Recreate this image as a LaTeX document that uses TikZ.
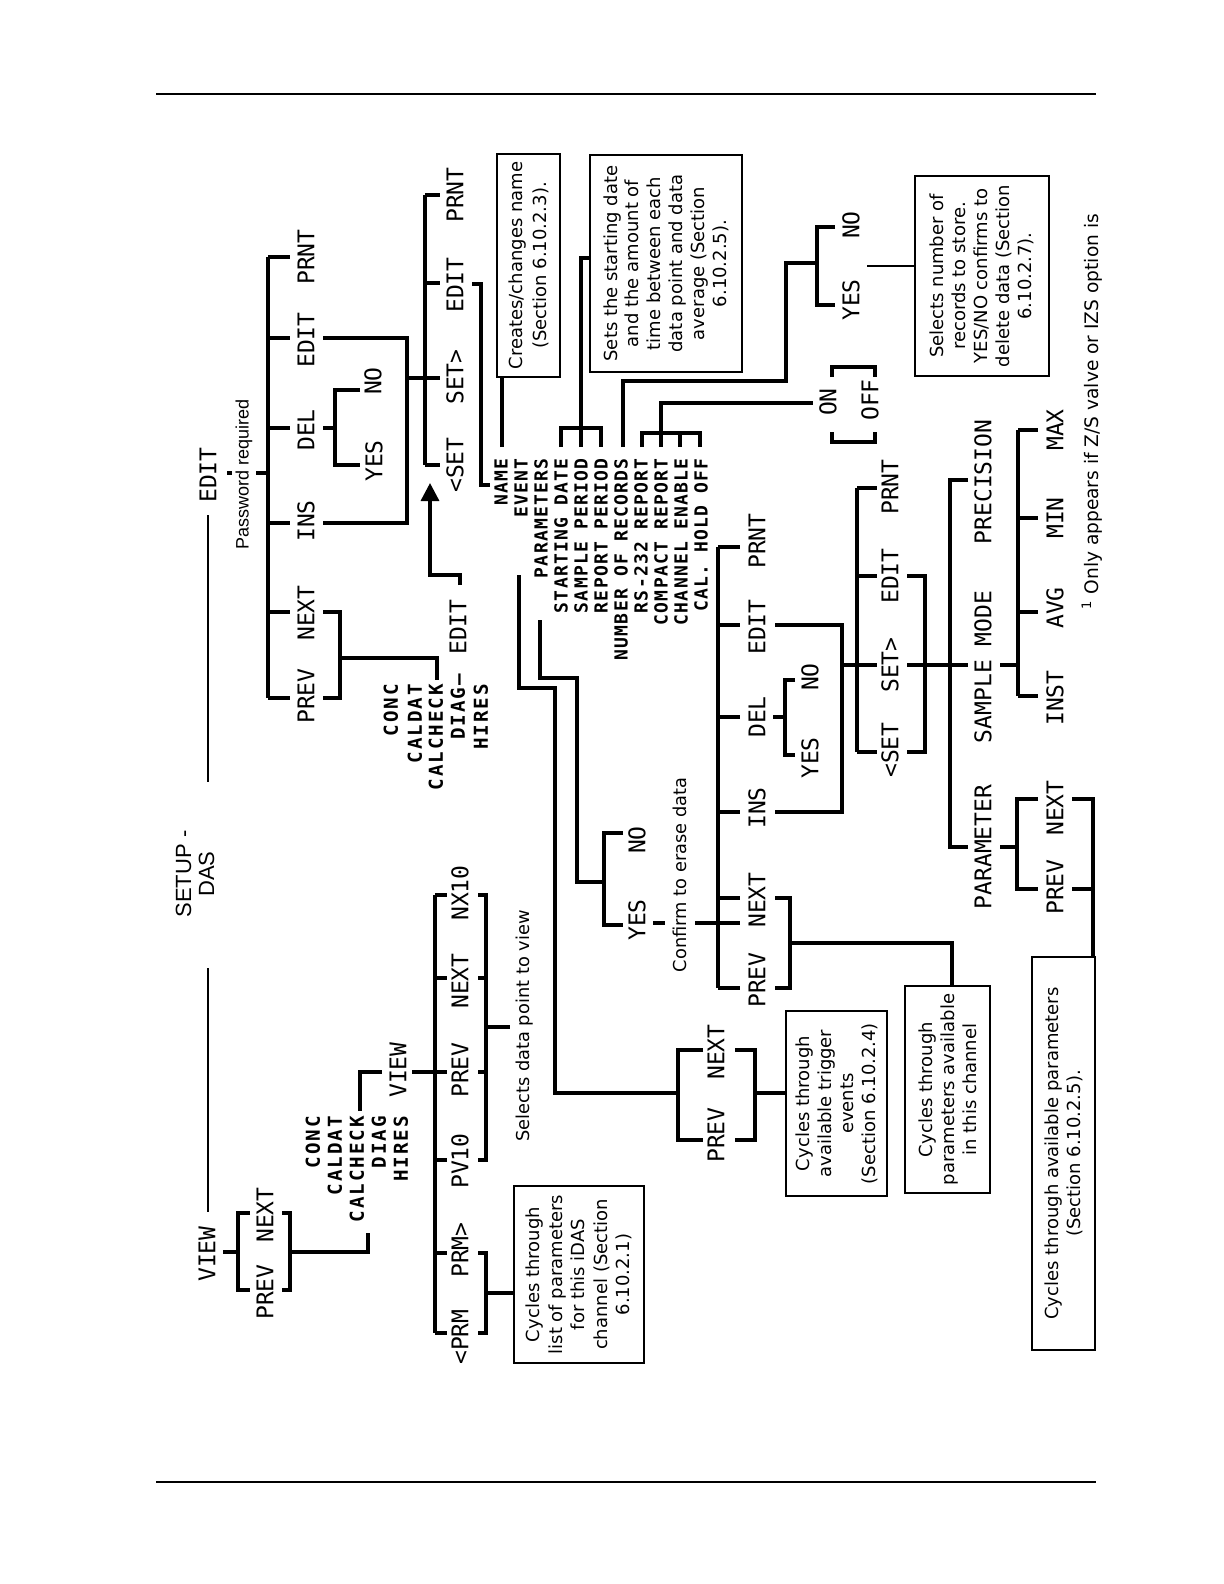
\documentclass[tikz,border=0pt]{standalone}
\usepackage{fontspec}
\setmainfont{DejaVu Sans}
\newfontfamily\menufont{DejaVu Sans Mono}
\newfontfamily\listfont[LetterSpace=7]{DejaVu Sans Mono}
\newfontfamily\listfontw[LetterSpace=10]{DejaVu Sans Mono}
\newfontfamily\arialfont{Liberation Sans}
\usetikzlibrary{arrows.meta}

\tikzset{
  menu/.style={rotate=90, inner sep=0pt, font=\menufont\fontsize{11.5}{13}\selectfont},
  lstitem/.style={rotate=90, inner sep=0pt, anchor=east, font=\listfont\bfseries\fontsize{9}{10}\selectfont},
  lstitemw/.style={rotate=90, inner sep=0pt, anchor=east, font=\listfontw\bfseries\fontsize{9.6}{10}\selectfont},
  hint/.style={rotate=90, inner sep=0pt, font=\fontsize{8.9}{11}\selectfont},
  note/.style={rotate=90, draw, line width=0.6pt, inner sep=0pt, align=center, font=\fontsize{9}{11}\selectfont},
  br/.style={line width=1.7pt},
  lvl/.style={line width=1.3pt},
  thinln/.style={line width=1pt},
  rule/.style={line width=0.6pt}
}

\begin{document}
\begin{tikzpicture}[x=0.5pt, y=-0.5pt]
  \useasboundingbox (0,0) rectangle (1224,1584);

  % ── page rules ────────────────────────────────────────────────
  \draw[rule] (156,94) -- (1096,94);
  \draw[rule] (156,1482) -- (1096,1482);

  % ── top level ─────────────────────────────────────────────────
  \node[menu] (edittop) at (208,475) {EDIT};
  \node[rotate=90, inner sep=0pt, font=\arialfont\fontsize{9}{10}\selectfont]
    (pwd) at (244,474) {Password required};
  \node[rotate=90, inner sep=0pt, align=center, font=\arialfont\fontsize{11}{11.5}\selectfont]
    (setup) at (195,874) {SETUP -\\DAS};
  \node[menu] (viewtop) at (207,1254) {VIEW};
  \draw[lvl] (208,515) -- (208,782);
  \draw[lvl] (208,968) -- (208,1212);

  % ── EDIT menu ─────────────────────────────────────────────────
  \draw[br] (227,473) -- (232,473);
  \draw[br] (256,473) -- (268,473);
  \draw[br] (268,257) -- (268,698);
  \foreach \y in {257,338,428,523,612,698}
    \draw[br] (268,\y) -- (290,\y);
  \node[menu] (eprnt) at (306,257) {PRNT};
  \node[menu] (eedit) at (306,340) {EDIT};
  \node[menu] (edel)  at (306,430) {DEL};
  \node[menu] (eins)  at (306,521) {INS};
  \node[menu] (enext) at (306,613) {NEXT};
  \node[menu] (eprev) at (306,696) {PREV};

  % DEL -> YES / NO
  \draw[br] (323,428) -- (335,428);
  \draw[br] (360,390) -- (335,390) -- (335,465) -- (360,465);
  \node[menu] (edno)  at (373,381) {NO};
  \node[menu] (edyes) at (374,461) {YES};

  % PREV / NEXT -> channel list
  \draw[br] (323,612) -- (340,612) -- (340,698) -- (323,698);
  \draw[br] (340,658) -- (437,658) -- (437,680);
  \foreach \x/\t in {391/CONC,415/CALDAT,436/CALCHECK,481/HIRES}
    \node[lstitemw] (ea\x) at (\x,684) {\t};
  \node[lstitemw] (ediag) at (458,674) {DIAG–};
  \node[menu] (ediagedit) at (458,627) {EDIT};
  \draw[br, -{Triangle[length=9pt,width=9pt]}]
    (460,585) -- (460,575) -- (430,575) -- (430,483);

  % INS / EDIT -> channel edit
  \draw[br] (323,338) -- (407,338) -- (407,523) -- (323,523);
  \draw[br] (407,378) -- (440,378);
  \draw[br] (425,195) -- (425,465);
  \foreach \y in {195,283,378,465}
    \draw[br] (425,\y) -- (440,\y);
  \node[menu] (cprnt) at (455,195) {PRNT};
  \node[menu] (cedit) at (455,285) {EDIT};
  \node[menu] (cset)  at (455,377) {SET>};
  \node[menu] (cbset) at (455,465) {<SET};
  \draw[br] (472,284) -- (481,284) -- (481,485) -- (490,485);

  % ── property list ─────────────────────────────────────────────
  \foreach \x/\t in {501/NAME,521/EVENT,541/PARAMETERS,561/STARTING DATE,
                     581/SAMPLE PERIOD,601/REPORT PERIOD,621/NUMBER OF RECORDS,
                     641/RS-232 REPORT,661/COMPACT REPORT,681/CHANNEL ENABLE,
                     701/CAL. HOLD OFF}
    \node[lstitem] (p\x) at (\x,458) {\t};

  % NAME
  \node[note, minimum width=111.5pt, minimum height=31.5pt, font=\fontsize{9}{12}\selectfont]
    (namebox) at (528.5,265.5) {Creates/changes name\\(Section 6.10.2.3).};
  \draw[br] (502,447) -- (502,377);

  % STARTING DATE / SAMPLE PERIOD / REPORT PERIOD
  \node[note, minimum width=108.5pt, minimum height=76pt, font=\fontsize{9}{10.9}\selectfont]
    (datebox) at (666,263.5)
    {Sets the starting date\\and the amount of\\time between each\\data point and data\\average (Section\\6.10.2.5).};
  \draw[br] (561,447) -- (561,428) -- (601,428) -- (601,447);
  \draw[br] (581,447) -- (581,258) -- (590,258);

  % NUMBER OF RECORDS
  \draw[br] (623,447) -- (623,381) -- (786,381) -- (786,263) -- (817,263);
  \draw[br] (835,227) -- (817,227) -- (817,305) -- (835,305);
  \node[menu] (rno)  at (851,225) {NO};
  \node[menu] (ryes) at (851,300) {YES};
  \node[note, minimum width=100pt, minimum height=67pt]
    (recbox) at (982,276)
    {Selects number of\\records to store.\\YES/NO confirms to\\delete data (Section\\6.10.2.7).};
  \draw[thinln] (867,266) -- (915,266);

  % RS-232 .. CAL. HOLD OFF -> ON / OFF
  \draw[br] (642,447) -- (642,433) -- (700,433) -- (700,447);
  \draw[br] (680,433) -- (680,447);
  \draw[br] (661,447) -- (661,403) -- (813,403);
  \node[menu] (on)  at (828,402) {ON};
  \node[menu] (off) at (870,400) {OFF};
  \draw[br] (832,377) -- (832,367) -- (875,367) -- (875,377);
  \draw[br] (832,432) -- (832,442) -- (875,442) -- (875,432);

  % ── EVENT ─────────────────────────────────────────────────────
  \draw[br] (519,575) -- (519,688) -- (555,688) -- (555,1093) -- (678,1093);
  \draw[br] (703,1050) -- (678,1050) -- (678,1140) -- (703,1140);
  \node[menu] (evnext) at (716,1052) {NEXT};
  \node[menu] (evprev) at (716,1135) {PREV};
  \draw[br] (735,1050) -- (755,1050) -- (755,1140) -- (735,1140);
  \node[note, minimum width=92.5pt, minimum height=50.5pt]
    (evbox) at (836.5,1103.5)
    {Cycles through\\available trigger\\events\\(Section 6.10.2.4)};
  \draw[br] (755,1093) -- (786,1093);

  % ── PARAMETERS ────────────────────────────────────────────────
  \draw[br] (540,620) -- (540,678) -- (577,678) -- (577,882) -- (604,882);
  \draw[br] (623,833) -- (604,833) -- (604,925) -- (623,925);
  \node[menu] (pno)  at (637,840) {NO};
  \node[menu] (pyes) at (637,920) {YES};
  \draw[br] (653,923) -- (665,923);
  \node[hint] (erase) at (680,875) {Confirm to erase data};
  \draw[br] (695,923) -- (740,923);

  % channel menu
  \draw[br] (718,547) -- (718,988);
  \foreach \y in {547,625,717,812,898,988}
    \draw[br] (718,\y) -- (740,\y);
  \node[menu] (hprnt) at (757,541) {PRNT};
  \node[menu] (hedit) at (757,627) {EDIT};
  \node[menu] (hdel)  at (757,717) {DEL};
  \node[menu] (hins)  at (757,808) {INS};
  \node[menu] (hnext) at (757,900) {NEXT};
  \node[menu] (hprev) at (757,980) {PREV};

  \draw[br] (775,898) -- (790,898) -- (790,988) -- (775,988);
  \draw[br] (790,943) -- (952,943) -- (952,986);
  \node[note, minimum width=103.5pt, minimum height=42.5pt]
    (chbox) at (947.5,1089.5)
    {Cycles through\\parameters available\\in this channel};

  \draw[br] (773,717) -- (785,717);
  \draw[br] (795,680) -- (785,680) -- (785,755) -- (795,755);
  \node[menu] (hno)  at (810,677) {NO};
  \node[menu] (hyes) at (810,758) {YES};

  \draw[br] (775,625) -- (842,625) -- (842,812) -- (775,812);
  \draw[br] (842,665) -- (857,665);
  \draw[br] (857,488) -- (857,752);
  \foreach \y in {488,576,665,752}
    \draw[br] (857,\y) -- (877,\y);
  \node[menu] (sprnt) at (890,487) {PRNT};
  \node[menu] (sedit) at (890,576) {EDIT};
  \node[menu] (sset)  at (890,665) {SET>};
  \node[menu] (sbset) at (890,750) {<SET};
  \draw[br] (907,576) -- (925,576) -- (925,752) -- (907,752);
  \draw[br] (907,665) -- (968,665);
  \draw[br] (968,480) -- (950,480) -- (950,847) -- (968,847);
  \node[menu] (precis) at (983,482) {PRECISION};
  \node[menu] (smode)  at (983,667) {SAMPLE MODE};
  \node[menu] (param)  at (983,847) {PARAMETER};

  % SAMPLE MODE
  \draw[br] (1000,665) -- (1018,665);
  \draw[br] (1018,430) -- (1018,696);
  \foreach \y in {430,518,612,696}
    \draw[br] (1018,\y) -- (1038,\y);
  \node[menu] (mmax)  at (1055,430) {MAX};
  \node[menu] (mmin)  at (1055,518) {MIN};
  \node[menu] (mavg)  at (1055,608) {AVG};
  \node[menu] (minst) at (1055,698) {INST};

  % PARAMETER
  \draw[br] (1000,847) -- (1017,847);
  \draw[br] (1038,799) -- (1017,799) -- (1017,889) -- (1038,889);
  \node[menu] (qnext) at (1055,808) {NEXT};
  \node[menu] (qprev) at (1055,887) {PREV};
  \draw[br] (1072,799) -- (1093,799) -- (1093,889) -- (1072,889);
  \draw[br] (1093,889) -- (1093,957);
  \node[note, minimum width=196.5pt, minimum height=31.5pt]
    (parbox) at (1063.5,1153.5)
    {Cycles through available parameters\\(Section 6.10.2.5).};

  % footnote
  \node[hint, anchor=west, font=\fontsize{9.3}{11}\selectfont] (fnote) at (1092,610)
    {\textsuperscript{1} Only appears if Z/S valve or IZS option is};

  % ── VIEW menu ─────────────────────────────────────────────────
  \draw[br] (223,1252) -- (238,1252);
  \draw[br] (250,1213) -- (238,1213) -- (238,1290) -- (250,1290);
  \node[menu] (vnext) at (265,1215) {NEXT};
  \node[menu] (vprev) at (265,1292) {PREV};
  \draw[br] (282,1213) -- (290,1213) -- (290,1290) -- (282,1290);
  \draw[br] (290,1252) -- (368,1252) -- (368,1233);
  \foreach \x/\t in {313/CONC,335/CALDAT,357/CALCHECK,379/DIAG,401/HIRES}
    \node[lstitemw] (va\x) at (\x,1116) {\t};
  \draw[br] (360,1111) -- (360,1072) -- (382,1072);
  \node[menu] (vview) at (398,1070) {VIEW};
  \draw[br] (412,1072) -- (435,1072);
  \draw[br] (435,895) -- (435,1333);
  \foreach \y in {895,978,1072,1160,1253,1333}
    \draw[br] (435,\y) -- (447,\y);
  \node[menu] (vnx)   at (460,893)  {NX10};
  \node[menu] (vnx1)  at (460,981)  {NEXT};
  \node[menu] (vpv1)  at (460,1070) {PREV};
  \node[menu] (vpv)   at (460,1161) {PV10};
  \node[menu] (vprm)  at (460,1250) {PRM>};
  \node[menu] (vbprm) at (460,1337) {<PRM};

  \draw[br] (478,895) -- (486,895) -- (486,1160) -- (478,1160);
  \draw[br] (478,978) -- (486,978);
  \draw[br] (478,1072) -- (486,1072);
  \draw[br] (486,1027) -- (510,1027);
  \node[hint] (selpt) at (525,1026) {Selects data point to view};

  \draw[br] (478,1253) -- (486,1253) -- (486,1333) -- (478,1333);
  \node[note, minimum width=88.5pt, minimum height=65pt, font=\fontsize{9}{11.2}\selectfont]
    (prmbox) at (579,1274.5)
    {Cycles through\\list of parameters\\for this iDAS\\channel (Section\\6.10.2.1)};
  \draw[br] (486,1293) -- (514,1293);

\end{tikzpicture}
\end{document}
